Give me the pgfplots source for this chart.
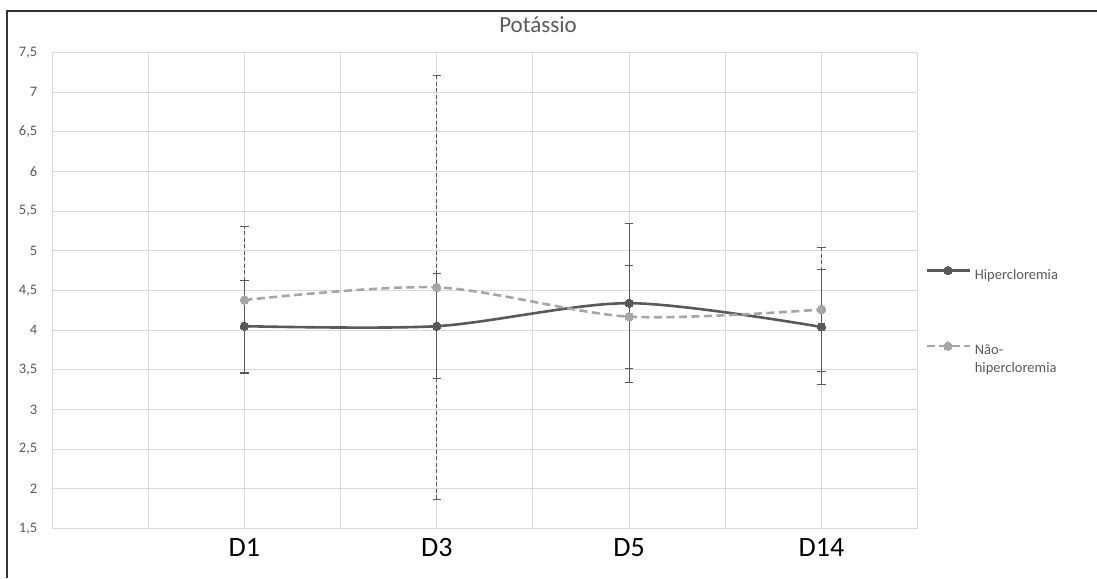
\documentclass[border=0pt]{standalone}
\usepackage{pgfplots}
\pgfplotsset{compat=1.18}
\usepackage{pgfplotstable}
\usepackage{fontspec}
\setmainfont{Carlito}

\definecolor{hiper}{HTML}{595959}
\definecolor{naohiper}{HTML}{A6A6A6}
\definecolor{gridc}{HTML}{D9D9D9}
\definecolor{txt}{HTML}{595959}

\newcommand\legfont{\fontsize{14.5}{17.7}\selectfont}

% mean and standard deviation of serum potassium per day
\pgfplotstableread{
x y e
2 4.05 0.58
4 4.05 0.66
6 4.34 1.00
8 4.04 0.73
}\hipertab
\pgfplotstableread{
x y e
2 4.38 0.93
4 4.54 2.675
6 4.17 0.65
8 4.26 0.78
}\naotab

\begin{document}
\begin{tikzpicture}[x=1pt,y=1pt]
\begin{axis}[
  at={(0,0)}, anchor=south west,
  scale only axis, width=865.7pt, height=475.6pt,
  xmin=0, xmax=9, ymin=1.5, ymax=7.5,
  xtick={2,4,6,8}, xticklabels={D1,D3,D5,D14},
  minor xtick={1,3,5,7},
  ytick={1.5,2,2.5,3,3.5,4,4.5,5,5.5,6,6.5,7,7.5},
  major tick length=0pt, minor tick length=0pt,
  xmajorgrids, xminorgrids, ymajorgrids,
  grid style={gridc, line width=1pt},
  minor grid style={gridc, line width=1pt},
  axis line style={gridc, line width=1pt},
  /pgf/number format/assume math mode=true,
  yticklabel style={/pgf/number format/.cd, fixed, precision=1, use comma, /tikz/.cd,
    font=\fontsize{14.5}{17}\selectfont, text=txt, inner sep=0pt, anchor=east, xshift=-14.5pt},
  xticklabel style={font=\fontsize{28}{32}\selectfont, text=black, inner sep=0pt, anchor=north, yshift=-10pt},
  legend style={draw=none, fill=none, inner sep=0pt, outer sep=0pt,
    at={(1.0092,0.551)}, anchor=north west,
    font=\legfont, text=txt,
    row sep=61pt,
    nodes={inner sep=0pt, font=\legfont, text=txt},
    cells={anchor=base west},
    /tikz/every odd column/.append style={column sep=4pt}},
  legend cell align=left,
  legend image code/.code={\draw[mark repeat=2,mark phase=2,#1] plot coordinates {(0pt,4.7pt)(21pt,4.7pt)(42.6pt,4.7pt)};},
]
\coordinate (o) at (rel axis cs:0,0);
\addplot[hiper, line width=2.6pt, smooth, tension=0.5,
  mark=*, mark size=4.2pt, mark options={solid, fill=hiper, draw=hiper, line width=0pt},
  error bars/.cd, y dir=both, y explicit,
  error bar style={line width=1.1pt, hiper, solid},
  error mark options={rotate=90, mark size=4.2pt, line width=1.1pt, hiper, solid}]
  table[x=x, y=y, y error=e] {\hipertab};
\addlegendentry{\legfont Hipercloremia}
\addplot[naohiper, line width=2.6pt, smooth, tension=0.5, dash pattern=on 8pt off 4.5pt,
  mark=*, mark size=4.2pt, mark options={solid, fill=naohiper, draw=naohiper, line width=0pt},
  error bars/.cd, y dir=both, y explicit,
  error bar style={line width=1pt, hiper, dash pattern=on 4pt off 2.5pt},
  error mark options={rotate=90, mark size=4.2pt, line width=1pt, hiper, solid}]
  table[x=x, y=y, y error=e] {\naotab};
\addlegendentry{\parbox[t]{120pt}{\legfont Não-\\hipercloremia}}
\end{axis}
% page frame: everything is placed relative to the plot area corner (o)
\pgfresetboundingbox
\path[use as bounding box] ([shift={(-52pt,-49.7pt)}]o) rectangle ([shift={(1045pt,528.3pt)}]o);
\draw[line width=1.5pt, color=black!80] ([shift={(-45pt,-49.7pt)}]o) -- ([shift={(-45pt,517.3pt)}]o) -- ([shift={(1045.5pt,517.3pt)}]o);
\node[anchor=base, inner sep=0pt, font=\fontsize{23}{28}\selectfont, text=txt] at ([shift={(486pt,496pt)}]o) {Potássio};
\end{tikzpicture}
\end{document}
